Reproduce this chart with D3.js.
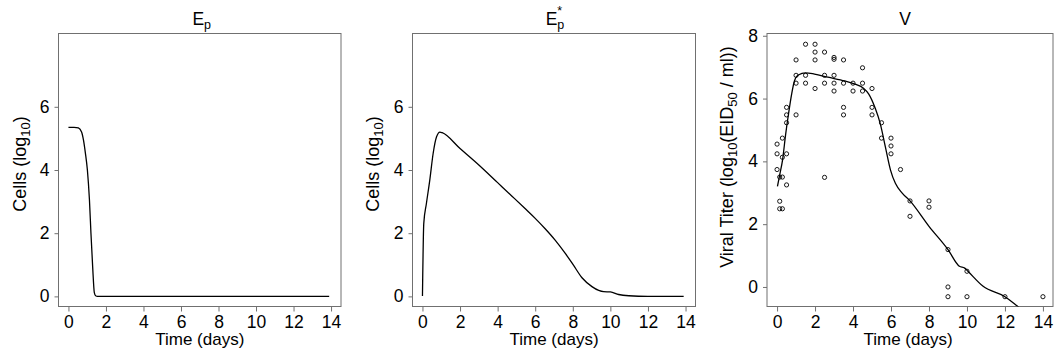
<!DOCTYPE html>
<html><head><meta charset="utf-8">
<script src="https://cdn.jsdelivr.net/npm/d3@7"></script>
<style>
html,body{margin:0;padding:0;background:#fff;}
text{font-family:"Liberation Sans",Arial,sans-serif;fill:#000;}
</style></head>
<body><svg id="c" width="1055" height="356"></svg>
<script>
// ---- data ----
const xTicks = [0, 2, 4, 6, 8, 10, 12, 14];
const cellTicks = [0, 2, 4, 6];
const virusTicks = [0, 2, 4, 6, 8];

const epTime = [0, 0.3, 0.53, 0.7, 0.8, 0.9, 1.01, 1.12, 1.2, 1.29, 1.38, 1.45, 1.55, 2, 4, 6, 8, 10, 12, 13.9];
const epVal  = [5.35, 5.35, 5.33, 5.2, 4.95, 4.55, 4.0, 3.05, 2.0, 0.95, 0.12, 0.02, 0, 0, 0, 0, 0, 0, 0, 0];

const epsTime = [0, 0.07, 0.21, 0.39, 0.57, 0.75, 0.93, 1.05, 2, 3, 4, 4.75, 5.46, 6, 6.53, 7.06, 7.6, 8, 8.49, 9.02, 9.38, 9.64, 10, 10.44, 10.98, 12, 13.9];
const epsVal  = [0.01, 2.31, 2.94, 3.68, 4.53, 5.05, 5.2, 5.18, 4.68, 4.16, 3.6, 3.18, 2.78, 2.47, 2.14, 1.78, 1.36, 1.02, 0.59, 0.31, 0.19, 0.15, 0.14, 0.06, 0.02, 0, 0];

const vTime = [0.02, 0.15, 0.29, 0.45, 0.6, 0.77, 0.91, 1.12, 1.5, 1.97, 2.68, 3.57, 4.1, 4.55, 4.82, 5.17, 5.43, 5.7, 5.97, 6.23, 6.59, 7.0, 8.0, 9.0, 9.6, 9.88, 10.05, 10.85, 12.0, 12.63, 13.0];
const vVal  = [3.2, 3.6, 4.05, 4.85, 5.5, 6.15, 6.55, 6.75, 6.82, 6.78, 6.68, 6.56, 6.46, 6.33, 6.15, 5.69, 5.21, 4.47, 3.73, 3.3, 2.99, 2.74, 1.93, 1.19, 0.66, 0.6, 0.5, 0.02, -0.31, -0.6, -0.78];

const obsTime = [0,0,0, 0.14,0.14,0.14, 0.28,0.28,0.28,0.28, 0.5,0.5,0.5,0.5,0.5,
  1,1,1,1, 1.5,1.5,1.5, 2,2,2,2, 2.5,2.5,2.5,2.5, 3,3,3,3,3, 3.5,3.5,3.5,3.5,
  4,4, 4.5,4.5,4.5, 5,5,5, 5.5,5.5, 6,6,6, 6.5, 7,7, 8,8, 9,9,9, 10,10, 12, 14];
const obsVal = [4.55,4.24,3.74, 3.5,2.73,2.49, 4.74,4.13,3.5,2.49, 5.72,5.48,5.23,4.24,3.25,
  7.23,6.74,6.49,5.48, 7.73,6.74,6.49, 7.73,7.48,7.23,6.32, 7.48,6.74,6.49,3.49, 7.31,7.25,6.74,6.49,6.24, 7.23,6.49,5.72,5.48,
  6.49,6.24, 6.98,6.49,6.24, 6.32,5.72,5.48, 5.23,4.74, 4.74,4.49,4.24, 3.74, 2.74,2.25, 2.74,2.54, 1.19,0,-0.31, 0.5,-0.31, -0.31, -0.31];

// ---- drawing ----
const svg = d3.select("#c");
const plotTop = 33.5, plotBottom = 306.5;
const FONT = "Liberation Sans, Arial, sans-serif";

function panel(cfg) {
  const g = svg.append("g");
  const x = d3.scaleLinear().domain([-0.53, 14.53]).range([cfg.left, cfg.right]);
  const y = d3.scaleLinear().domain(cfg.ydom).range([plotBottom, plotTop]);
  const id = "clip" + cfg.key;
  svg.append("clipPath").attr("id", id).append("rect")
    .attr("x", cfg.left).attr("y", plotTop).attr("width", cfg.right - cfg.left).attr("height", plotBottom - plotTop);

  // box
  g.append("rect").attr("x", cfg.left).attr("y", plotTop)
    .attr("width", cfg.right - cfg.left).attr("height", plotBottom - plotTop)
    .attr("fill", "none").attr("stroke", "#707070").attr("stroke-width", 1);

  // axes
  const xa = d3.axisBottom(x).tickValues(xTicks).tickSize(5).tickPadding(3).tickSizeOuter(0);
  const xg = g.append("g").attr("transform", `translate(0,${plotBottom})`).call(xa);
  xg.select(".domain").remove();
  xg.selectAll("line").attr("stroke", "#707070");
  xg.selectAll("text").attr("font-size", 17.5).attr("font-family", FONT).attr("fill", "#000").attr("dy", "0.78em");

  const ya = d3.axisLeft(y).tickValues(cfg.yticks).tickSize(4).tickPadding(5).tickSizeOuter(0);
  const yg = g.append("g").attr("transform", `translate(${cfg.left},0)`).call(ya);
  yg.select(".domain").remove();
  yg.selectAll("line").attr("stroke", "#707070");
  yg.selectAll("text").attr("font-size", 17.5).attr("font-family", FONT).attr("fill", "#000");

  const cx = (cfg.left + cfg.right) / 2;
  // x label
  g.append("text").attr("x", cx + (cfg.xlOff || 0)).attr("y", 345)
    .attr("text-anchor", "middle").attr("font-size", 17).text("Time (days)");

  // title
  const t = g.append("text").attr("x", cx + (cfg.tOff || 0)).attr("y", 25)
    .attr("text-anchor", "middle").attr("font-size", 17.5);
  cfg.title(t);

  // y label
  const yl = g.append("text")
    .attr("transform", `translate(${cfg.ylx},${cfg.yly}) rotate(-90)`)
    .attr("text-anchor", "middle").attr("font-size", 18);
  cfg.ylabel(yl);

  // line
  const line = d3.line().x(d => x(d[0])).y(d => y(d[1])).curve(d3.curveMonotoneX);
  g.append("path").datum(d3.zip(cfg.lt, cfg.lv))
    .attr("clip-path", `url(#${id})`)
    .attr("d", line).attr("fill", "none").attr("stroke", "#000").attr("stroke-width", 1.3);

  if (cfg.pts) {
    g.append("g").selectAll("circle").data(d3.zip(cfg.pts[0], cfg.pts[1])).join("circle")
      .attr("cx", d => x(d[0])).attr("cy", d => y(d[1])).attr("r", 2.1)
      .attr("fill", "none").attr("stroke", "#000").attr("stroke-width", 0.9);
  }
}

function cellsLabel(t) {
  t.append("tspan").text("Cells (log");
  t.append("tspan").attr("font-size", 13).attr("dy", 4).text("10");
  t.append("tspan").attr("dy", -4).text(")");
}

panel({ key: 1, left: 58.5, right: 341, ydom: [-0.32, 8.32], yticks: cellTicks, tOff: 2,
  title: t => { t.append("tspan").text("E"); t.append("tspan").attr("font-size", 12.5).attr("dy", 4).text("p"); },
  ylx: 26, yly: 164, ylabel: cellsLabel, lt: epTime, lv: epVal });

panel({ key: 2, left: 412.5, right: 695.5, ydom: [-0.32, 8.32], yticks: cellTicks, tOff: 1,
  title: t => {
    t.append("tspan").text("E");
    t.append("tspan").attr("font-size", 12.5).attr("dy", 4).text("p");
    t.append("tspan").attr("font-size", 12.5).attr("dx", -7).attr("dy", -14).text("*");
  },
  ylx: 379, yly: 164, ylabel: cellsLabel, lt: epsTime, lv: epsVal });

panel({ key: 3, left: 767, right: 1053, ydom: [-0.622, 8.072], yticks: virusTicks, tOff: -5, xlOff: -2,
  title: t => { t.text("V"); },
  ylx: 733, yly: 157, ylabel: t => {
    t.append("tspan").text("Viral Titer (log");
    t.append("tspan").attr("font-size", 13).attr("dy", 4).text("10");
    t.append("tspan").attr("dy", -4).text("(EID");
    t.append("tspan").attr("font-size", 13).attr("dy", 4).text("50");
    t.append("tspan").attr("dy", -4).text(" / ml))");
  },
  lt: vTime, lv: vVal, pts: [obsTime, obsVal] });
</script>
</body></html>
